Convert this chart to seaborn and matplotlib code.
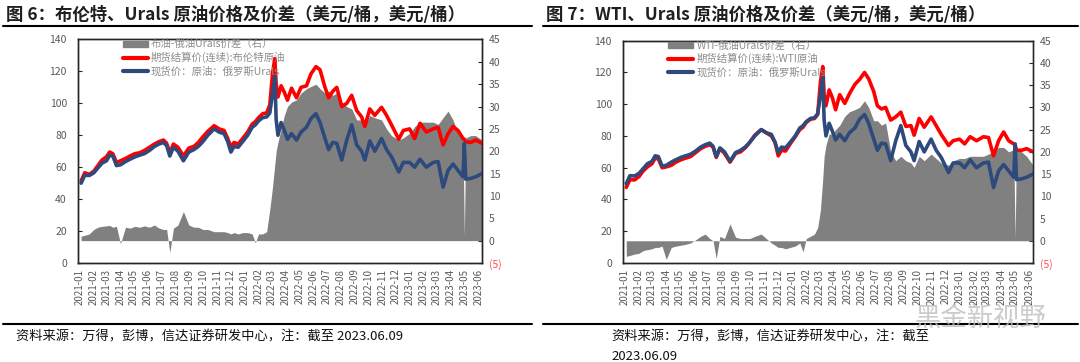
import numpy as np
import pandas as pd
import matplotlib.pyplot as plt
import matplotlib.dates as mdates
from matplotlib.lines import Line2D
from matplotlib.patches import Patch
import seaborn as sns

# values (USD/bbl)
dates = ['2021-01-04', '2021-01-12', '2021-01-22', '2021-02-01', '2021-02-10', '2021-02-19',
         '2021-03-01', '2021-03-08', '2021-03-15', '2021-03-23', '2021-04-01', '2021-04-12',
         '2021-04-22', '2021-05-03', '2021-05-13', '2021-05-24', '2021-06-04', '2021-06-15',
         '2021-06-25', '2021-07-05', '2021-07-12', '2021-07-19', '2021-07-27', '2021-08-06',
         '2021-08-18', '2021-08-30', '2021-09-10', '2021-09-20', '2021-09-30', '2021-10-11',
         '2021-10-25', '2021-11-05', '2021-11-16', '2021-11-24', '2021-12-01', '2021-12-08',
         '2021-12-17', '2021-12-27', '2022-01-07', '2022-01-17', '2022-01-24', '2022-01-31',
         '2022-02-09', '2022-02-18', '2022-02-25', '2022-03-03', '2022-03-08', '2022-03-11',
         '2022-03-15', '2022-03-22', '2022-03-29', '2022-04-05', '2022-04-14', '2022-04-25',
         '2022-05-05', '2022-05-17', '2022-05-27', '2022-06-07', '2022-06-16', '2022-06-27',
         '2022-07-05', '2022-07-14', '2022-07-23', '2022-08-03', '2022-08-14', '2022-08-25',
         '2022-09-05', '2022-09-16', '2022-09-23', '2022-10-04', '2022-10-15', '2022-10-30',
         '2022-11-10', '2022-11-21', '2022-12-07', '2022-12-17', '2022-12-31', '2023-01-11',
         '2023-01-23', '2023-02-06', '2023-02-21', '2023-03-04', '2023-03-15', '2023-03-26',
         '2023-04-06', '2023-04-17', '2023-04-28', '2023-05-01', '2023-05-04', '2023-05-15',
         '2023-05-26', '2023-06-09']

brent = [51.5, 56.5, 55.5, 57.5, 61.0, 64.5, 66.5, 69.5, 68.5, 63.0, 64.0, 65.5,
         67.0, 68.5, 69.0, 70.5, 72.5, 74.5, 76.0, 77.0, 75.0, 69.0, 74.5, 72.5,
         67.0, 72.0, 73.0, 75.5, 79.0, 82.5, 86.0, 84.0, 83.0, 78.0, 72.5, 75.5,
         74.5, 78.0, 82.0, 87.0, 88.5, 91.0, 93.5, 94.0, 99.0, 118.5, 128.0, 112.0,
         104.0, 111.0, 107.0, 102.0, 109.5, 103.5, 110.0, 111.0, 118.5, 123.0, 121.0, 110.0,
         103.5, 107.5, 110.0, 98.0, 100.0, 105.0, 95.5, 91.5, 85.5, 96.5, 92.5, 97.5,
         92.5, 86.5, 77.5, 83.0, 84.0, 78.0, 87.5, 82.0, 84.0, 85.0, 74.0, 81.0,
         85.5, 83.0, 78.0, 77.5, 76.0, 75.5, 77.0, 75.0]

wti = [47.6, 52.5, 52.3, 54.5, 58.0, 60.5, 62.5, 66.0, 65.5, 60.0, 60.5, 61.5,
       63.5, 65.0, 66.0, 67.0, 69.5, 72.0, 73.5, 74.5, 73.0, 66.5, 72.0, 69.0,
       63.5, 69.0, 70.0, 72.5, 76.0, 80.5, 84.0, 82.0, 80.0, 76.0, 67.5, 71.0,
       70.5, 75.0, 79.5, 84.0, 85.5, 88.5, 90.5, 91.0, 93.5, 114.0, 123.7, 106.0,
       99.0, 109.0, 104.0, 96.5, 106.0, 100.5, 106.5, 112.5, 115.5, 120.0, 116.0, 108.0,
       99.0, 97.0, 98.0, 90.0, 92.0, 95.0, 86.0, 86.5, 80.5, 91.0, 85.5, 92.0,
       86.5, 81.0, 74.0, 77.0, 78.0, 75.0, 79.5, 77.0, 79.5, 79.0, 67.5, 77.0,
       82.5, 77.0, 75.0, 74.5, 71.0, 71.0, 72.0, 70.0]

urals = [50.0, 55.0, 54.8, 56.5, 59.5, 62.5, 64.0, 67.5, 67.0, 61.0, 61.5, 63.5,
         65.0, 66.5, 67.5, 68.5, 70.5, 73.0, 74.5, 75.5, 73.5, 67.0, 72.5, 70.0,
         64.0, 69.5, 71.0, 73.0, 76.0, 80.0, 84.0, 82.0, 81.0, 76.0, 69.5, 73.0,
         72.5, 76.0, 80.0, 85.0, 86.5, 89.0, 91.0, 91.5, 94.0, 106.0, 117.0, 90.0,
         80.0, 88.0, 83.0, 77.5, 81.0, 77.0, 82.0, 85.0, 90.5, 93.5, 88.0, 78.0,
         71.0, 75.5, 75.0, 64.5, 77.0, 86.5, 74.0, 70.0, 64.5, 76.5, 70.0, 78.0,
         71.0, 66.5, 57.0, 63.0, 63.0, 60.0, 65.0, 60.0, 63.0, 63.5, 47.5, 58.0,
         62.0, 58.0, 54.0, 75.0, 52.5, 53.0, 54.0, 56.0]

spread_brent = [1.0, 1.2, 1.5, 2.5, 3.0, 3.2, 3.3, 3.4, 3.0, 3.2, -0.7, 3.0,
                2.8, 3.2, 3.0, 3.3, 3.0, 3.5, 2.8, 2.5, 2.5, -2.7, 2.8, 3.5,
                6.5, 3.5, 3.0, 3.0, 2.5, 2.5, 2.0, 2.0, 2.0, 1.8, 1.5, 1.8,
                1.5, 1.8, 1.8, 1.5, -0.5, 1.5, 1.5, 2.0, 7.0, 12.0, 17.0, 20.0,
                22.0, 25.0, 28.0, 30.0, 31.0, 31.5, 33.0, 34.0, 34.5, 35.0, 34.0, 33.0,
                33.5, 32.5, 33.0, 31.0, 30.0, 29.5, 27.0, 27.0, 26.0, 28.0, 27.5, 27.0,
                25.0, 23.5, 22.5, 23.0, 24.0, 25.5, 26.5, 26.5, 26.5, 26.0, 27.5, 29.0,
                27.0, 24.0, 23.0, 1.0, 23.0, 23.5, 23.5, 22.5]

spread_wti = [-3.5, -3.3, -3.0, -2.8, -2.2, -2.0, -1.8, -1.5, -1.5, -1.2, -4.2, -1.5,
              -1.2, -1.0, -0.8, -0.5, 0.2, 1.0, 1.5, 0.5, 0.0, -4.0, 1.0, 0.5,
              3.8, 0.8, 0.5, 0.5, 0.5, 1.0, 1.5, 0.5, -0.5, -1.0, -1.5, -1.5,
              -1.8, -1.5, -1.2, -0.5, -2.5, 0.5, 1.0, 1.5, 3.0, 7.0, 14.0, 19.0,
              21.5, 24.0, 24.0, 25.0, 26.0, 28.0, 29.0, 29.5, 30.0, 31.5, 30.0, 27.0,
              27.0, 26.0, 26.5, 20.0, 18.0, 19.0, 18.0, 17.5, 16.5, 19.0, 18.0, 19.5,
              18.5, 17.5, 17.0, 18.0, 18.5, 18.5, 19.0, 19.0, 19.0, 19.5, 20.0, 21.0,
              21.0, 20.0, 20.5, 0.5, 20.5, 20.0, 19.0, 17.0]

df = pd.DataFrame({'date': pd.to_datetime(dates), 'brent': brent, 'wti': wti,
                   'urals': urals, 'spread_brent': spread_brent, 'spread_wti': spread_wti})

sns.set_style("white")
plt.rcParams['font.family'] = ['Noto Sans CJK SC', 'DejaVu Sans']

RED = '#FF0000'
BLUE = '#2E4A7D'
GREY = '#808080'
TICK = '#595959'

fig = plt.figure(figsize=(10.8, 3.62), dpi=100)


def draw_panel(rect, bench_col, spread_col, labels, spine_right):
    ax = fig.add_axes(rect)
    ax2 = ax.twinx()
    # spread as grey area on the right axis
    ax2.fill_between(df['date'], 0, df[spread_col], color=GREY, lw=0)
    ax2.set_ylim(-5, 45)
    ax2.set_yticks(range(-5, 50, 5))
    ax2.set_yticklabels(['(5)'] + [str(v) for v in range(0, 50, 5)])
    ax2.get_yticklabels()[0].set_color('#FF4D4D')
    ax2.tick_params(axis='y', direction='in', length=3, labelsize=7.5,
                    labelcolor=TICK, pad=5)
    ax2.get_yticklabels()[0].set_color('#FF4D4D')
    # lines on top
    ax.set_zorder(ax2.get_zorder() + 1)
    ax.patch.set_visible(False)
    sns.lineplot(data=df, x='date', y=bench_col, ax=ax, color=RED, lw=2.6)
    sns.lineplot(data=df, x='date', y='urals', ax=ax, color=BLUE, lw=2.6)
    ax.set_ylim(0, 140)
    ax.set_yticks(range(0, 141, 20))
    ax.set_xlim(pd.Timestamp('2020-12-28'), pd.Timestamp('2023-06-09'))
    ax.xaxis.set_major_locator(mdates.MonthLocator())
    ax.xaxis.set_major_formatter(mdates.DateFormatter('%Y-%m'))
    ax.tick_params(axis='x', rotation=90, direction='in', length=3, labelsize=7,
                   labelcolor=TICK, pad=4)
    ax.tick_params(axis='y', direction='in', length=3, labelsize=7.5,
                   labelcolor=TICK, pad=8)
    ax.set_xlabel('')
    ax.set_ylabel('')
    ax2.set_ylabel('')
    for a in (ax, ax2):
        for s in a.spines.values():
            s.set_color('#262626')
            s.set_linewidth(1.0)
    ax2.spines['right'].set_color(spine_right)
    handles = [Patch(color=GREY), Line2D([], [], color=RED, lw=3),
               Line2D([], [], color=BLUE, lw=3)]
    leg = ax.legend(handles, labels, loc='upper left', bbox_to_anchor=(0.1, 1.02),
                    frameon=False, fontsize=7.5, labelcolor='#8C8C8C',
                    handlelength=2.4, handleheight=0.5, labelspacing=0.25,
                    handletextpad=0.3, borderaxespad=0)
    leg.set_zorder(10)
    return ax


draw_panel([0.0722, 0.2735, 0.3741, 0.6174], 'brent', 'spread_brent',
           ['布油-俄油Urals价差（右）', '期货结算价(连续):布伦特原油', '现货价：原油：俄罗斯Urals'],
           '#262626')
draw_panel([0.5769, 0.2735, 0.3796, 0.6141], 'wti', 'spread_wti',
           ['WTI-俄油Urals价差（右）', '期货结算价(连续):WTI原油', '现货价：原油：俄罗斯Urals'],
           '#44546A')

title_kw = dict(fontsize=12.5, fontweight='bold', color='#1F1F1F', va='center')
fig.text(6 / 1080, 1 - 15 / 362, '图 6：布伦特、Urals 原油价格及价差（美元/桶，美元/桶）', **title_kw)
fig.text(546 / 1080, 1 - 15 / 362, '图 7：WTI、Urals 原油价格及价差（美元/桶，美元/桶）', **title_kw)

for x0, x1 in [(3, 532), (543, 1078)]:
    for y in (26, 324):
        fig.add_artist(Line2D([x0 / 1080, x1 / 1080], [1 - y / 362, 1 - y / 362],
                              transform=fig.transFigure, color='black', lw=1.5))

src_kw = dict(fontsize=9.5, style='italic', color='#111111', va='center')
fig.text(16 / 1080, 1 - 337 / 362, '资料来源：万得，彭博，信达证券研发中心，注：截至 2023.06.09', **src_kw)
fig.text(611 / 1080, 1 - 337 / 362, '资料来源：万得，彭博，信达证券研发中心，注：截至', **src_kw)
fig.text(611 / 1080, 1 - 356 / 362, '2023.06.09', **src_kw)

# account watermark in the lower right corner
fig.text(915 / 1080, 1 - 318 / 362, '黑金新视野', fontsize=19, color='#BFBFBF',
         alpha=0.8, va='center')

fig.savefig('out.png', dpi=100)
